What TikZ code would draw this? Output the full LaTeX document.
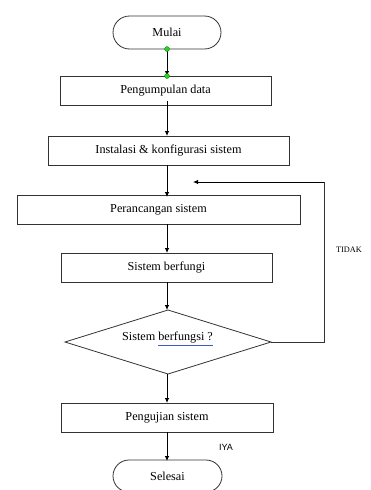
\documentclass[tikz,border=0pt]{standalone}
\usepackage{fontspec}
\setmainfont{Liberation Serif}
\newfontfamily\arialfont{Liberation Sans}
\usetikzlibrary{shapes.geometric,shapes.misc,arrows.meta}
\definecolor{dotgreen}{RGB}{40,210,40}
\definecolor{squig}{RGB}{60,90,200}
\tikzset{
  boxline/.style={draw=black!80, line width=0.8pt},
  procbox/.style={boxline, rectangle, inner sep=0pt, outer sep=0pt, minimum height=29pt, font=\fontsize{12.2}{14}\selectfont},
  termbox/.style={boxline, rounded rectangle, inner sep=0pt, outer sep=0pt, minimum width=108pt, minimum height=33pt, font=\fontsize{12.2}{14}\selectfont},
  decbox/.style={boxline, diamond, aspect=3.2, inner sep=0pt, outer sep=0pt, minimum width=206pt, minimum height=64pt, font=\fontsize{12.2}{14}\selectfont},
  arr/.style={draw=black, line width=0.8pt, -{Latex[length=5pt,width=4.5pt]}},
  handle/.style={circle, fill=dotgreen, draw=green!50!black, line width=0.3pt, inner sep=0pt, minimum size=5pt},
}
\begin{document}
\begin{tikzpicture}[x=1pt,y=-1pt]
\useasboundingbox (0,0) rectangle (371,490);
\clip (0,0) rectangle (371,490);
\node[termbox] (mulai) at (167,32.5) {Mulai};
\node[procbox, minimum width=211pt] (peng) at (165.5,90.5) {Pengumpulan data};
\node[procbox, minimum width=241pt] (inst) at (168.5,150.5) {Instalasi \& konfigurasi sistem};
\node[procbox, minimum width=283pt] (peran) at (158.5,209.5) {Perancangan sistem};
\node[procbox, minimum width=211pt] (sisb) at (166.5,267.5) {Sistem berfungi};
\node[decbox] (dec) at (168,342) {};
\node[font=\fontsize{12.2}{14}\selectfont] (dectext) at (167.5,339) {Sistem {\color{squig}\underline{\color{black}berfungsi ?}}};
\node[procbox, minimum width=212pt] (uji) at (167,417.5) {Pengujian sistem};
\node[termbox, minimum width=109pt, minimum height=32pt] (selesai) at (167.5,476) {Selesai};
\node[font=\fontsize{8.3}{10}\selectfont] (tidak) at (349,250) {TIDAK};
\node[font=\arialfont\fontsize{9}{10}\selectfont] (iya) at (226,447) {IYA};
\coordinate (fbc) at (324,182);
\coordinate (fbtip) at (193,182);
\draw[arr] (mulai.south) -- (peng.north -| mulai.south);
\draw[arr] ([yshift=4pt]peng.south -| mulai.south) -- (inst.north -| mulai.south);
\draw[arr] (inst.south -| mulai.south) -- ([yshift=-2pt]peran.north -| mulai.south);
\draw[arr] (peran.south -| mulai.south) -- (sisb.north -| mulai.south);
\draw[arr] (sisb.south -| mulai.south) -- (dec.north -| mulai.south);
\draw[arr] (dec.south -| mulai.south) -- (uji.north -| mulai.south);
\draw[arr] (uji.south -| mulai.south) -- ([yshift=-1pt]selesai.north -| mulai.south);
\draw[draw=black!80, line width=0.8pt] (dec.east) -| (fbc);
\draw[arr] (fbc) -- (fbtip);
\node[handle] (h1) at (mulai.south) {};
\node[handle] (h2) at (peng.north -| mulai.south) {};
\end{tikzpicture}
\end{document}
